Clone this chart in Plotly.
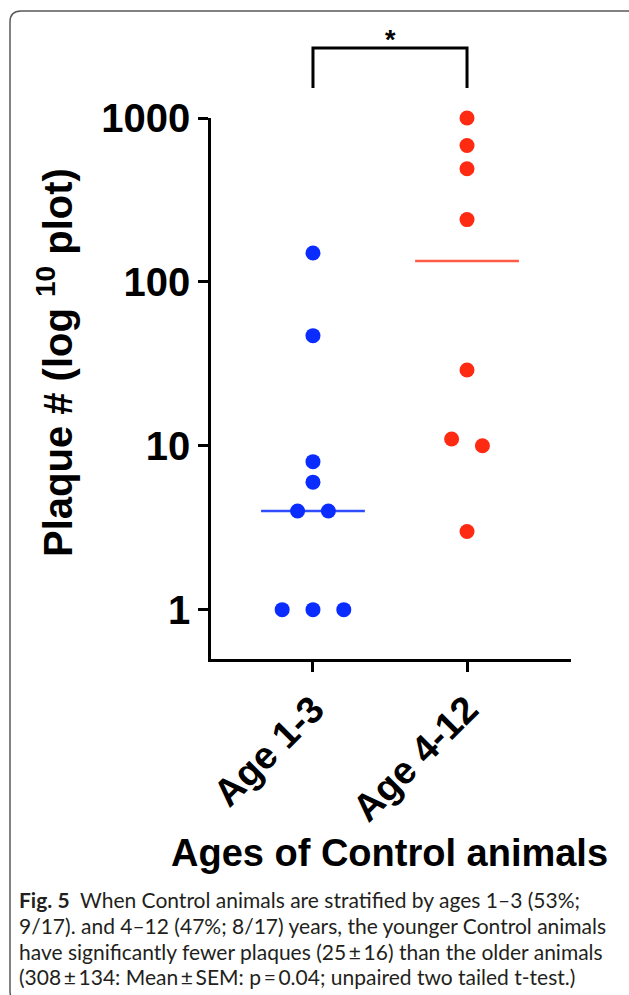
import numpy as np
import plotly.graph_objects as go

# ---------------- data ----------------
categories = ["Age 1-3", "Age 4-12"]
young_values = [150, 47, 8, 6, 4, 4, 1, 1, 1]
old_values = [1000, 680, 490, 240, 29, 11, 10, 3]
medians = [4, 134]
y_tick_values = [1, 10, 100, 1000]
y_tick_labels = ["1", "10", "100", "1000"]
significance = "*"

# ---------------- styling ----------------
W, H = 629, 995
PL, PR, PT, PB = 211, 571, 118, 659   # plot area in pixels
BLUE = "#0a2cff"
RED = "#ff2a12"
BLUE_LINE = "#2f4dff"
RED_LINE = "#ff5a45"
FONT = "Liberation Sans, Arial, sans-serif"
CAP_FONT = "Lato, Noto Sans, sans-serif"


def px(x):
    return (x - PL) / (PR - PL)


def py(y):
    return (PB - y) / (PB - PT)


def swarm_offsets(vals, step=0.2, thresh=0.09):
    logs = np.log10(vals)
    order = sorted(range(len(vals)), key=lambda i: -vals[i])
    groups = []
    for i in order:
        if groups and abs(logs[groups[-1][-1]] - logs[i]) < thresh:
            groups[-1].append(i)
        else:
            groups.append([i])
    offs = [0.0] * len(vals)
    for g in groups:
        n = len(g)
        for k, i in enumerate(g):
            offs[i] = (k - (n - 1) / 2) * step
    return offs


fig = go.Figure()
groups = [young_values, old_values]
colors = [BLUE, RED]
line_colors = [BLUE_LINE, RED_LINE]
half = 0.337
for ci, (vals, col, lcol) in enumerate(zip(groups, colors, line_colors)):
    offs = swarm_offsets(vals)
    fig.add_trace(go.Scatter(
        x=[ci - half, ci + half], y=[medians[ci], medians[ci]],
        mode="lines", line=dict(color=lcol, width=2.5), hoverinfo="skip"))
    fig.add_trace(go.Scatter(
        x=[ci + o for o in offs], y=vals, mode="markers",
        marker=dict(color=col, size=15, line=dict(width=0)),
        cliponaxis=False))

fig.update_layout(
    width=W, height=H,
    margin=dict(l=PL, r=W - PR, t=PT, b=H - PB, pad=0),
    paper_bgcolor="white", plot_bgcolor="white",
    showlegend=False,
    font=dict(family=FONT, color="black"),
)
fig.update_xaxes(
    range=[-0.662, 1.675], showgrid=False, zeroline=False,
    showline=True, linecolor="black", linewidth=2.5,
    ticks="outside", ticklen=10, tickwidth=2.5, tickcolor="black",
    tickvals=[0, 1], ticktext=categories, tickangle=-45,
    tickfont=dict(family=FONT, size=38, weight="bold", color="black"),
)
fig.update_yaxes(
    type="log", range=[np.log10(0.5), 3], showgrid=False, zeroline=False,
    showline=True, linecolor="black", linewidth=2.5,
    ticks="outside", ticklen=10, tickwidth=2.5, tickcolor="black",
    tickvals=y_tick_values, ticktext=y_tick_labels,
    tickfont=dict(family=FONT, size=40, weight="bold", color="black"),
)

# significance bracket
fig.add_shape(type="path", xref="x", yref="paper",
              path=f"M 0,{py(88)} L 0,{py(48)} L 1,{py(48)} L 1,{py(88)}",
              line=dict(color="black", width=3))
fig.add_annotation(x=0.5, xref="x", y=py(57), yref="paper", text=significance,
                   showarrow=False, yanchor="bottom",
                   font=dict(family=FONT, size=27, weight="bold", color="black"))

# axis titles
fig.add_annotation(x=px(55), y=py(363), xref="paper", yref="paper",
                   text="Plaque # (log <sup>10</sup> plot)", textangle=-90,
                   showarrow=False, xanchor="center", yanchor="middle",
                   font=dict(family=FONT, size=40, weight="bold", color="black"))
fig.add_annotation(x=px(389), y=py(853), xref="paper", yref="paper",
                   text="Ages of Control animals",
                   showarrow=False, xanchor="center", yanchor="middle",
                   font=dict(family=FONT, size=38, weight="bold", color="black"))

# caption
cap_lines = [
    "<b>Fig. 5</b>  When Control animals are stratified by ages 1–3 (53%;",
    "9/17). and 4–12 (47%; 8/17) years, the younger Control animals",
    "have significantly fewer plaques (25\u2009±\u200916) than the older animals",
    "(308\u2009±\u2009134: Mean\u2009±\u2009SEM: p\u2009=\u20090.04; unpaired two tailed t-test.)",
]
cap_y = [899, 925, 951, 977]
for t, yy in zip(cap_lines, cap_y):
    fig.add_annotation(x=px(17), y=py(yy), xref="paper", yref="paper",
                       text=t.replace("  ", "&nbsp;&nbsp;"), showarrow=False,
                       xanchor="left", yanchor="middle", align="left",
                       font=dict(family=CAP_FONT, size=21, color="#231f20"))

# frame
frame = (f"M {px(22)},{py(1003)} Q {px(10)},{py(1003)} {px(10)},{py(991)} "
         f"L {px(10)},{py(22)} Q {px(10)},{py(11)} {px(21)},{py(11)} "
         f"L {px(640)},{py(11)}")
fig.add_shape(type="path", xref="paper", yref="paper", path=frame,
              line=dict(color="#5a5a5a", width=1.5))

fig.write_html("out.html",
               config={"displayModeBar": False},
               post_script="document.body.style.margin='0px';document.body.style.padding='0px';")
